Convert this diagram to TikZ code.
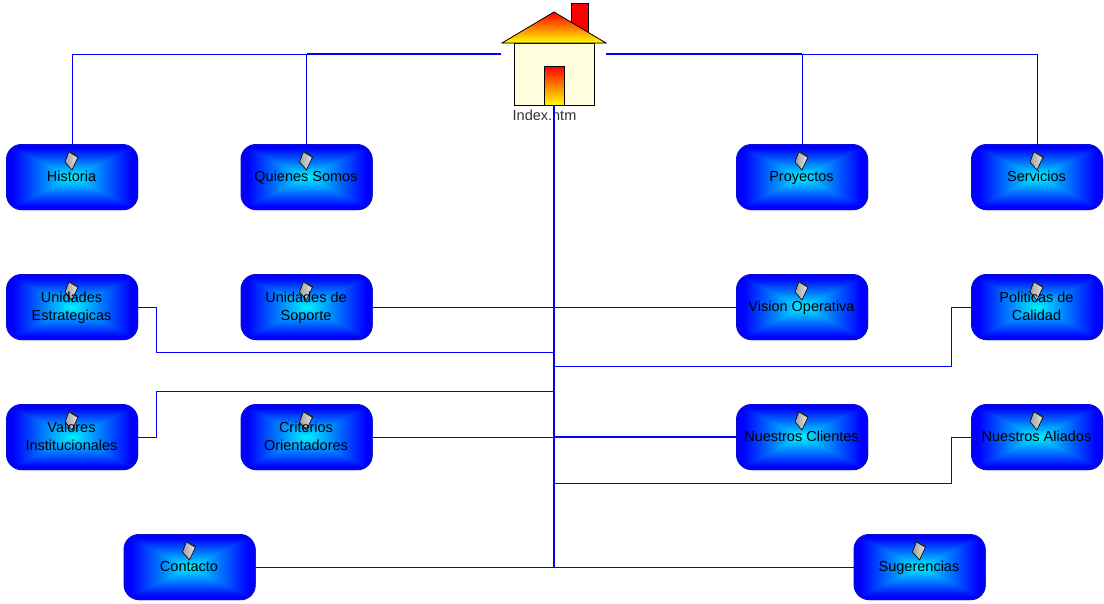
\documentclass[tikz,border=0pt]{standalone}
\usepackage{fontspec}
\setmainfont{Liberation Sans}
\usetikzlibrary{calc,positioning,shadows}
\pgfdeclarefunctionalshading{boxglow}{\pgfpoint{-50bp}{-50bp}}{\pgfpoint{50bp}{50bp}}{}{
abs exch abs 2 copy gt {pop} {exch pop} ifelse 25 div 0.9 div 1 exch sub dup 0 lt {pop 0} if 0.95 mul 0 exch 1}
\tikzset{
	pagebox/.style={draw={rgb,255:red,10;green,10;blue,215}, line width=1pt, rounded corners=15pt, shading=boxglow, minimum width=131pt, minimum height=65pt, inner sep=0pt,
		drop shadow={shadow xshift=0.7pt, shadow yshift=-0.7pt, fill={rgb,255:red,0;green,0;blue,110}, opacity=1}},
	pagetext/.style={inner sep=0pt, font=\fontsize{14.5}{18}\selectfont, yshift=-1pt, xshift=-0.5pt},
	notemark/.pic={
		\filldraw[left color=gray!75, right color=gray!20, draw=black, line width=0.6pt] (-3,-25.5) -- (6,-20) -- (0,-7) -- (-7,-15) -- cycle;
		\draw[line width=1.5pt, black!85] (-3,-25.5) -- (6,-20);
	},
	link/.style={draw=blue, line width=0.8pt},
	heavylink/.style={draw=blue, line width=1.1pt},
	trunk/.style={draw=blue, line width=1.5pt},
	firegrad/.style={top color=red, bottom color=yellow, draw=black, line width=0.8pt}
}
\newcommand{\pagenode}[3]{
	\node[pagebox] (#1) at (#2) {};
	\pic at (#1.center) {notemark};
	\node[pagetext] (#1text) at (#1.center) {\begin{tabular}{@{}c@{}}#3\end{tabular}};
}
\begin{document}
\begin{tikzpicture}[x=1pt,y=-1pt]
	\useasboundingbox (0,0) rectangle (1104,603);
	% house
	\filldraw[fill=red, draw=black, line width=0.8pt] (571,3) rectangle (588,36);
	\node[draw=black, line width=0.8pt, fill={rgb,255:red,255;green,255;blue,222}, minimum width=80pt, minimum height=62pt, inner sep=0pt] (home) at (554,74) {};
	\filldraw[firegrad] (554,12) -- (606,43) -- (502,43) -- cycle;
	\node[firegrad, minimum width=20pt, minimum height=39pt, inner sep=0pt] (door) at (554,85.5) {};
	\node[font=\fontsize{14.5}{18}\selectfont, text=black!80, inner sep=0pt] (homelabel) at (544.5,115) {Index.htm};
	\coordinate (homewest) at (501,54);
	\coordinate (homeeast) at (606,54);
	% pages
	\pagenode{historia}{72,177}{Historia}
	\pagenode{quienes}{306.5,177}{Quienes Somos}
	\pagenode{proyectos}{802,177}{Proyectos}
	\pagenode{servicios}{1037,177}{Servicios}
	\pagenode{estrategicas}{72,307}{Unidades\\Estrategicas}
	\pagenode{soporte}{306.5,307}{Unidades de\\Soporte}
	\pagenode{vision}{802,307}{Vision Operativa}
	\pagenode{politicas}{1037,307}{Politicas de\\Calidad}
	\pagenode{valores}{72,437}{Valores\\Institucionales}
	\pagenode{criterios}{306.5,437}{Criterios\\Orientadores}
	\pagenode{clientes}{802,437}{Nuestros Clientes}
	\pagenode{aliados}{1037,437}{Nuestros Aliados}
	\pagenode{contacto}{189.5,567}{Contacto}
	\pagenode{sugerencias}{919.5,567}{Sugerencias}
	% points on the trunk
	\coordinate (tapa) at (554,352);
	\coordinate (tapb) at (554,366);
	\coordinate (tapc) at (554,391);
	\coordinate (tapd) at (554,483);
	\coordinate (tape) at (554,567);
	\coordinate (tapf) at (554,437);
	\coordinate (quienestop) at (quienes.north |- homewest);
	\coordinate (proyectostop) at (proyectos.north |- homeeast);
	% top row
	\draw[link] (homewest) -| (historia.north);
	\draw[heavylink] (homewest) -- (quienestop);
	\draw[link] (quienestop) -- (quienes.north);
	\draw[heavylink] (homeeast) -- (proyectostop);
	\draw[link] (proyectostop) -- (proyectos.north);
	\draw[link] (proyectostop) -| (servicios.north);
	% trunk
	\draw[trunk] (door.south) -- (tape);
	\draw[link] (estrategicas.east) -- ++(18,0) |- (tapa);
	\draw[link] (soporte.east) -- (vision.west);
	\draw[link] (politicas.west) -- ++(-20,0) |- (tapb);
	\draw[link] (valores.east) -- ++(18,0) |- (tapc);
	\draw[link] (criterios.east) -- (tapf);
	\draw[heavylink] (tapf) -- (clientes.west);
	\draw[link] (aliados.west) -- ++(-20,0) |- (tapd);
	\draw[link] (contacto.east) -- (sugerencias.west);
\end{tikzpicture}
\end{document}
